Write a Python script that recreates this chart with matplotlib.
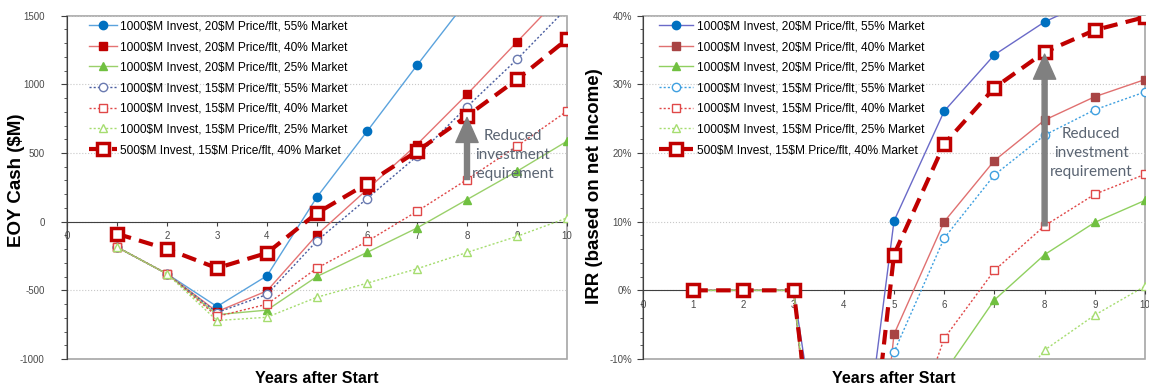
import numpy as np
import matplotlib
matplotlib.use('Agg')
import matplotlib.pyplot as plt
from matplotlib import font_manager
from matplotlib.patches import Rectangle
from matplotlib.ticker import MultipleLocator, FuncFormatter

# use the narrow Arial clone if it is there, plain Liberation Sans otherwise
installed = {f.name for f in font_manager.fontManager.ttflist}
HAS_NARROW = 'Liberation Sans Narrow' in installed
NARROW = ['Liberation Sans Narrow' if HAS_NARROW else 'Liberation Sans', 'DejaVu Sans']
BOLD = ['Liberation Sans', 'DejaVu Sans']
plt.rcParams['font.family'] = NARROW
plt.rcParams['axes.unicode_minus'] = False

years = np.arange(1, 11)

labels = [
    "1000\\$M Invest, 20\\$M Price/flt, 55% Market",
    "1000\\$M Invest, 20\\$M Price/flt, 40% Market",
    "1000\\$M Invest, 20\\$M Price/flt, 25% Market",
    "1000\\$M Invest, 15\\$M Price/flt, 55% Market",
    "1000\\$M Invest, 15\\$M Price/flt, 40% Market",
    "1000\\$M Invest, 15\\$M Price/flt, 25% Market",
    "500\\$M Invest, 15\\$M Price/flt, 40% Market",
]

# EOY cash, $M (values above 1500 run off the top of the chart)
cash_20_55 = [-185, -380, -618, -394, 180, 657, 1139, 1610, 2090, 2570]
cash_20_40 = [-185, -380, -655, -504, -95, 234, 562, 927, 1309, 1690]
cash_20_25 = [-185, -380, -677, -644, -399, -224, -46, 161, 367, 586]
cash_15_55 = [-185, -380, -662, -530, -139, 168, 477, 837, 1182, 1556]
cash_15_40 = [-185, -380, -690, -601, -338, -144, 75, 307, 550, 805]
cash_15_25 = [-185, -380, -720, -696, -550, -448, -343, -224, -107, 27]
cash_500 = [-88, -199, -338, -228, 63, 277, 513, 769, 1036, 1328]

# IRR in % (year 4 values are far below the visible range)
irr_20_55 = [0, 0, 0, -47, 10.1, 26.1, 34.3, 39.1, 42.5, 45.0]
irr_20_40 = [0, 0, 0, -75, -6.4, 10.0, 18.9, 24.8, 28.2, 30.7]
irr_20_25 = [0, 0, 0, -70, -30, -12, -1.4, 5.2, 9.9, 13.1]
irr_15_55 = [0, 0, 0, -70, -9.0, 7.6, 16.8, 22.6, 26.3, 28.9]
irr_15_40 = [0, 0, 0, -70, -28, -7.0, 2.9, 9.4, 14.0, 16.9]
irr_15_25 = [0, 0, 0, -65, -45, -28, -18, -8.7, -3.6, 0.6]
irr_500 = [0, 0, 0, -60, 5.2, 21.3, 29.5, 34.7, 37.9, 39.8]

cash_series = [cash_20_55, cash_20_40, cash_20_25, cash_15_55, cash_15_40, cash_15_25, cash_500]
irr_series = [irr_20_55, irr_20_40, irr_20_25, irr_15_55, irr_15_40, irr_15_25, irr_500]

# (line colour, marker colour, marker, filled, linestyle)
left_styles = [
    ('#5ba3dd', '#0070c0', 'o', True, '-'),
    ('#e57373', '#c00000', 's', True, '-'),
    ('#9ad06a', '#70c040', '^', True, '-'),
    ('#4a5da0', '#6a7ab0', 'o', False, ':'),
    ('#e04848', '#e04848', 's', False, ':'),
    ('#a6dd70', '#a6dd70', '^', False, ':'),
]
right_styles = [
    ('#6a6ac8', '#0070c0', 'o', True, '-'),
    ('#e07070', '#a84444', 's', True, '-'),
    ('#90d060', '#70c040', '^', True, '-'),
    ('#3fa0e0', '#3fa0e0', 'o', False, ':'),
    ('#e04848', '#e04848', 's', False, ':'),
    ('#a6dd70', '#a6dd70', '^', False, ':'),
]

small = 8.2 if HAS_NARROW else 7.0
leg_size = 10.2 if HAS_NARROW else 8.6


def draw_panel(ax, data, styles):
    for vals, lab, (lc, mc, mk, filled, ls) in zip(data[:6], labels[:6], styles):
        dash = (0, (1.5, 1.5)) if ls == ':' else '-'
        ax.plot(years, vals, color=lc, lw=1.0, linestyle=dash, marker=mk,
                markersize=6 if mk != '^' else 5.5,
                markerfacecolor=mc if filled else 'white',
                markeredgecolor=mc, markeredgewidth=1.0, label=lab, zorder=3)
    ax.plot(years, data[6], color='#c00000', lw=3, linestyle=(0, (3.5, 2)),
            marker='s', markersize=8, markerfacecolor='white',
            markeredgecolor='#c00000', markeredgewidth=2.5, label=labels[6], zorder=4)


def style_axes(ax, ypad):
    ax.set_xlim(0, 10)
    ax.spines['bottom'].set_position(('data', 0))
    ax.spines['bottom'].set_color('#404040')
    ax.spines['left'].set_color('#404040')
    ax.spines['top'].set_visible(False)
    ax.spines['right'].set_visible(False)
    ax.add_patch(Rectangle((0, 0), 1, 1, transform=ax.transAxes, fill=False,
                           edgecolor='#a6a6a6', lw=1.2, zorder=0, clip_on=False))
    ax.set_xticks(range(0, 11))
    ax.tick_params(axis='x', direction='out', length=3, color='#404040',
                   labelsize=small, labelcolor='#4a4a4a', pad=4)
    ax.tick_params(axis='y', which='major', direction='out', length=4, pad=ypad,
                   color='#404040', labelsize=small, labelcolor='#4a4a4a')
    ax.tick_params(axis='y', which='minor', direction='out', length=2.5, color='#404040')
    ax.grid(axis='y', which='major', color='#c8c8c8', linestyle=':', lw=0.8)
    ax.set_axisbelow(True)
    ax.set_xlabel("Years after Start", fontsize=11.5, fontweight='bold', family=BOLD)
    ax.xaxis.set_label_coords(0.5, -0.035)


def legend(ax, x0, hl):
    ax.legend(loc='upper left', bbox_to_anchor=(x0, 1.0), frameon=False,
              fontsize=leg_size, labelspacing=0.72, handlelength=hl,
              handletextpad=0.3, borderaxespad=0.0)


def note(ax, x, y, x_base, y_base, x_tip, y_tip):
    ax.annotate('', xy=(x_tip, y_tip), xytext=(x_base, y_base),
                arrowprops=dict(facecolor='#808080', edgecolor='#808080',
                                width=3.6, headwidth=16, headlength=18, shrink=0),
                zorder=5)
    ax.text(x, y, "Reduced\ninvestment\nrequirement", ha='center', va='center',
            fontsize=11, color='#5a6472', family=['Lato', 'DejaVu Sans'],
            linespacing=1.45, zorder=6)


fig = plt.figure(figsize=(11.49, 3.89), dpi=100)
ax1 = fig.add_axes([67 / 1149, 30 / 389, 500 / 1149, 343.3 / 389])
ax2 = fig.add_axes([643 / 1149, 30 / 389, 502 / 1149, 343.3 / 389])

# left panel: EOY cash
draw_panel(ax1, cash_series, left_styles)
style_axes(ax1, 12)
ax1.set_ylim(-1000, 1500)
ax1.yaxis.set_major_locator(MultipleLocator(500))
ax1.yaxis.set_minor_locator(MultipleLocator(100))
ax1.set_ylabel("EOY Cash (\\$M)", fontsize=13.5, fontweight='bold', family=BOLD)
ax1.yaxis.set_label_coords(-0.084, 0.521)
legend(ax1, 0.035, 2.3)
note(ax1, 8.92, 485, 8, cash_15_40[7], 8, cash_500[7] - 10)

# right panel: IRR
draw_panel(ax2, irr_series, right_styles)
style_axes(ax2, 4)
ax2.set_ylim(-10, 40)
ax2.yaxis.set_major_locator(MultipleLocator(10))
ax2.yaxis.set_minor_locator(MultipleLocator(2))
ax2.yaxis.set_major_formatter(FuncFormatter(lambda v, p: f"{v:.0f}%"))
ax2.set_ylabel("IRR (based on net Income)", fontsize=13.5, fontweight='bold', family=BOLD)
ax2.yaxis.set_label_coords(-0.080, 0.503)
legend(ax2, 0.022, 2.9)
note(ax2, 8.93, 20.0, 8, irr_15_40[7], 8, irr_500[7] - 0.3)

fig.savefig('out.png', dpi=100)
